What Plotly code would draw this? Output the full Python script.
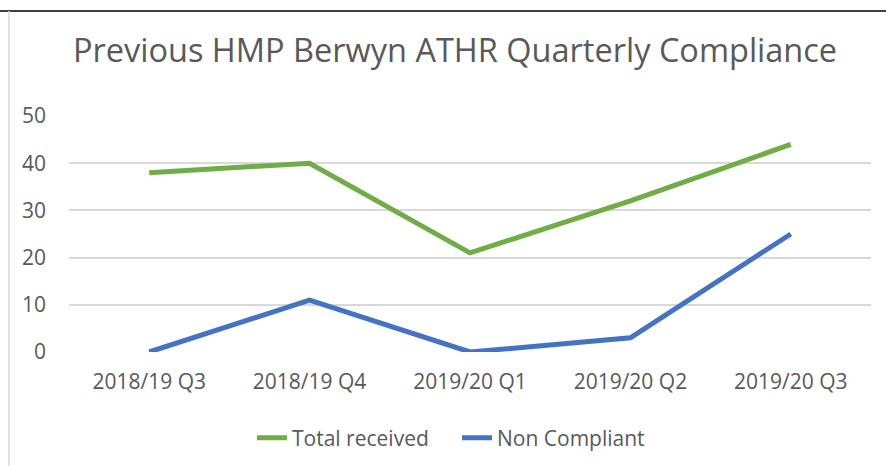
import plotly.graph_objects as go

categories = ["2018/19 Q3", "2018/19 Q4", "2019/20 Q1", "2019/20 Q2", "2019/20 Q3"]
total_received = [38, 40, 21, 32, 44]
non_compliant = [0, 11, 0, 3, 25]
y_ticks = [0, 10, 20, 30, 40, 50]

FONT = "Open Sans"
GREY = "#595959"

fig = go.Figure()
fig.add_trace(go.Scatter(x=categories, y=total_received, mode="lines", name="Total received",
                         line=dict(color="#70AD47", width=5), cliponaxis=False))
fig.add_trace(go.Scatter(x=categories, y=non_compliant, mode="lines", name="Non Compliant",
                         line=dict(color="#4472C4", width=5), cliponaxis=False))

L, R, T, B = 69, 15, 116, 114
W, H = 886, 466
pw, ph = W - L - R, H - T - B

def px_x(p):
    return (p - L) / pw

def px_y(p):
    return (H - B - p) / ph

fig.update_layout(
    width=W, height=H,
    margin=dict(l=L, r=R, t=T, b=B, autoexpand=False),
    paper_bgcolor="white", plot_bgcolor="white",
    font=dict(family=FONT, color=GREY, size=21),
    title=dict(text="Previous HMP Berwyn ATHR Quarterly Compliance",
               x=455 / W, xref="container", xanchor="center",
               y=1 - 51 / H, yref="container", yanchor="middle",
               font=dict(family=FONT, size=32.5, color=GREY)),
    showlegend=True,
    legend=dict(orientation="h", x=457 / W, xanchor="center", xref="container",
                y=1 - 438 / H, yref="container", yanchor="middle",
                entrywidth=160, font=dict(size=21, color=GREY)),
    xaxis=dict(range=[-0.5, 4.5], showgrid=False, showline=False, zeroline=False, ticks="",
               ticklabelstandoff=15, automargin=False, tickfont=dict(size=21, color=GREY)),
    yaxis=dict(range=[0, 50], tickvals=y_ticks, showgrid=True, gridcolor="#D9D9D9",
               gridwidth=1.5, zeroline=False, showline=False, ticks="",
               ticklabelstandoff=22, automargin=False, tickfont=dict(size=21, color=GREY)),
    shapes=[
        dict(type="line", xref="paper", yref="paper", x0=px_x(0), x1=px_x(W), y0=px_y(11), y1=px_y(11),
             line=dict(color="black", width=1.5)),
        dict(type="line", xref="paper", yref="paper", x0=px_x(9), x1=px_x(9), y0=px_y(11), y1=px_y(H),
             line=dict(color="#D9D9D9", width=1.5)),
    ],
)

fig.write_html("out.html", config={"displayModeBar": False},
               post_script="document.body.style.margin='0';document.body.style.overflow='hidden';")
